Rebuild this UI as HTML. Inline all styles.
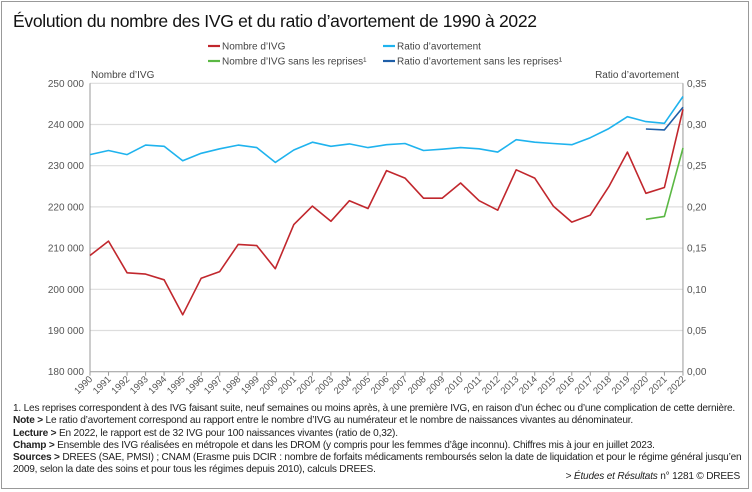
<!DOCTYPE html>
<html><head><meta charset="utf-8"><style>
html,body{margin:0;padding:0;background:#fff}
body{width:752px;height:492px;position:relative;overflow:hidden;font-family:"Liberation Sans",sans-serif;color:#222}
.frame{position:absolute;left:1px;top:1px;width:746px;height:486px;border:1.5px solid #999}
.title{position:absolute;left:13px;top:11px;font-size:17.5px;letter-spacing:-0.3px;color:#111}
.notes{position:absolute;left:13px;top:403px;font-size:10.1px;line-height:12.3px;letter-spacing:-0.2px;color:#222;width:727px;white-space:nowrap}
.notes b{font-weight:bold}
.cred{position:absolute;right:12px;top:471px;font-size:10.1px;letter-spacing:-0.2px;color:#222}
</style></head><body>
<div class="frame"></div>
<div class="title">Évolution du nombre des IVG et du ratio d’avortement de 1990 à 2022</div>
<svg id="c" width="752" height="400" style="position:absolute;left:0;top:0" font-family="Liberation Sans, sans-serif"></svg>
<div class="notes">1. Les reprises correspondent à des IVG faisant suite, neuf semaines ou moins après, à une première IVG, en raison d’un échec ou d’une complication de cette dernière.<br>
<b>Note &gt;</b> Le ratio d’avortement correspond au rapport entre le nombre d’IVG au numérateur et le nombre de naissances vivantes au dénominateur.<br>
<b>Lecture &gt;</b> En 2022, le rapport est de 32 IVG pour 100 naissances vivantes (ratio de 0,32).<br>
<b>Champ &gt;</b> Ensemble des IVG réalisées en métropole et dans les DROM (y compris pour les femmes d’âge inconnu). Chiffres mis à jour en juillet 2023.<br>
<b>Sources &gt;</b> DREES (SAE, PMSI) ; CNAM (Erasme puis DCIR : nombre de forfaits médicaments remboursés selon la date de liquidation et pour le régime général jusqu’en<br>2009, selon la date des soins et pour tous les régimes depuis 2010), calculs DREES.</div>
<div class="cred">&gt; <i>Études et Résultats</i> n° 1281 © DREES</div>
<script>
var s='',x0=90,dx=18.53,yT=83.3,yB=371.7;
function Y(v){return yB-(v-180000)/70000*(yB-yT)}
function X(i){return x0+i*dx}
var L=['250 000','240 000','230 000','220 000','210 000','200 000','190 000','180 000'];
var R=['0,35','0,30','0,25','0,20','0,15','0,10','0,05','0,00'];
for(var k=0;k<8;k++){var y=yT+k*(yB-yT)/7;
 if(k<7)s+='<line x1="'+x0+'" x2="'+X(32)+'" y1="'+y+'" y2="'+y+'" stroke="#ddd" stroke-width="1.2"/>';
 s+='<text x="84" y="'+(y+3.5)+'" font-size="10" fill="#555" text-anchor="end">'+L[k]+'</text>';
 s+='<text x="'+(X(32)+4)+'" y="'+(y+3.5)+'" font-size="10" fill="#555">'+R[k]+'</text>';}
s+='<line x1="'+x0+'" x2="'+x0+'" y1="'+yT+'" y2="'+yB+'" stroke="#999"/>';
s+='<line x1="'+X(32)+'" x2="'+X(32)+'" y1="'+yT+'" y2="'+yB+'" stroke="#999"/>';
s+='<line x1="'+x0+'" x2="'+X(32)+'" y1="'+yB+'" y2="'+yB+'" stroke="#999"/>';
for(var i=0;i<=32;i++){var x=X(i);s+='<line x1="'+x+'" x2="'+x+'" y1="'+yB+'" y2="'+(yB+4)+'" stroke="#999"/>';
 s+='<text transform="translate('+(x+3)+','+(yB+8)+') rotate(-45)" font-size="9.5" fill="#555" text-anchor="end">'+(1990+i)+'</text>';}
s+='<text x="91" y="78" font-size="10" fill="#444">Nombre d’IVG</text>';
s+='<text x="679" y="78" font-size="10" fill="#444" text-anchor="end">Ratio d’avortement</text>';
function line(d,st,c){var p=d.map(function(v,i){return X(i+st).toFixed(1)+','+Y(v).toFixed(1)}).join(' ');
 s+='<polyline points="'+p+'" fill="none" stroke="'+c+'" stroke-width="1.6" stroke-linejoin="round"/>';}
line([232700,233700,232700,235000,234700,231200,233000,234100,235000,234400,230800,233800,235700,234700,235300,234400,235100,235400,233700,234000,234400,234100,233300,236300,235700,235400,235100,236800,239000,241900,240700,240300,246800],0,'#1fb3ee');
line([208200,211700,204000,203700,202300,193800,202700,204300,210900,210600,205000,215700,220200,216500,221500,219600,228800,227000,222100,222100,225800,221500,219200,229000,227000,220200,216300,218000,224900,233300,223300,224700,243700],0,'#c1272d');
line([217000,217700,234300],30,'#5bb844');
line([238900,238700,244200],30,'#1f5fa8');
function leg(x,y,c,t){s+='<line x1="'+x+'" x2="'+(x+12)+'" y1="'+y+'" y2="'+y+'" stroke="'+c+'" stroke-width="2.2"/><text x="'+(x+14)+'" y="'+(y+3.5)+'" font-size="10" fill="#444">'+t+'</text>';}
leg(208,46,'#c1272d','Nombre d’IVG');
leg(383,46,'#1fb3ee','Ratio d’avortement');
leg(208,61,'#5bb844','Nombre d’IVG sans les reprises¹');
leg(383,61,'#1f5fa8','Ratio d’avortement sans les reprises¹');
document.getElementById('c').innerHTML=s;
</script>
</body></html>
